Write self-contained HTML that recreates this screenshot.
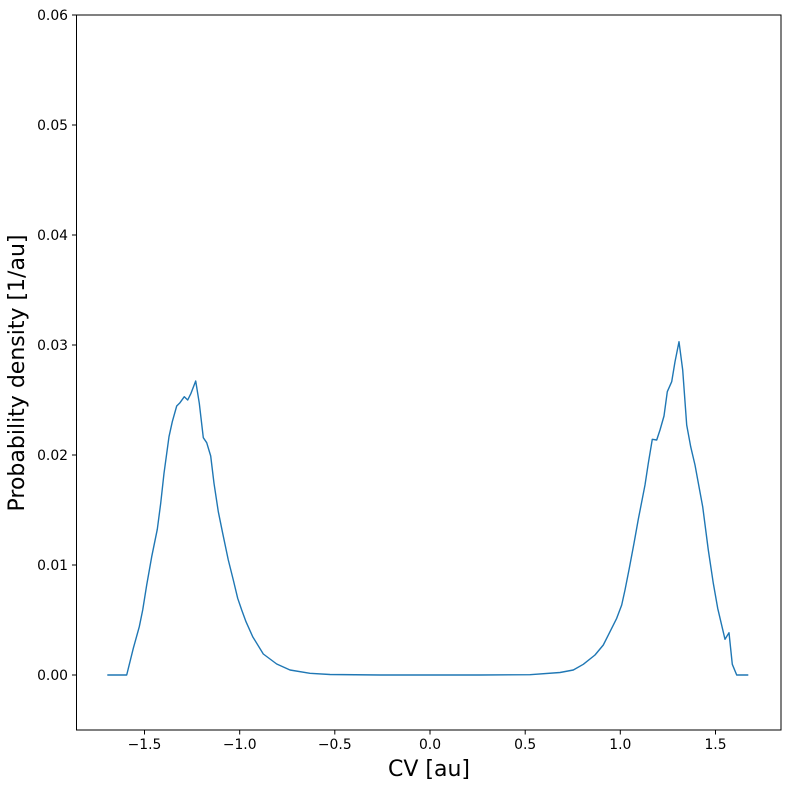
<!DOCTYPE html>
<html><head><meta charset="utf-8"><style>
html,body{margin:0;padding:0;background:#fff;}
svg{display:block;font-family:"DejaVu Sans","Liberation Sans",sans-serif;}
</style></head><body>
<svg width="790" height="789" viewBox="0 0 790 789" xmlns="http://www.w3.org/2000/svg">
<rect width="790" height="789" fill="#fff"/>
<g stroke="#000" stroke-width="1">
<line x1="144.5" y1="730" x2="144.5" y2="734.5"/>
<line x1="239.7" y1="730" x2="239.7" y2="734.5"/>
<line x1="334.8" y1="730" x2="334.8" y2="734.5"/>
<line x1="430" y1="730" x2="430" y2="734.5"/>
<line x1="525.2" y1="730" x2="525.2" y2="734.5"/>
<line x1="620.3" y1="730" x2="620.3" y2="734.5"/>
<line x1="715.5" y1="730" x2="715.5" y2="734.5"/>
<line x1="72" y1="675" x2="76.5" y2="675"/>
<line x1="72" y1="565" x2="76.5" y2="565"/>
<line x1="72" y1="455" x2="76.5" y2="455"/>
<line x1="72" y1="345" x2="76.5" y2="345"/>
<line x1="72" y1="235" x2="76.5" y2="235"/>
<line x1="72" y1="125" x2="76.5" y2="125"/>
<line x1="72" y1="15" x2="76.5" y2="15"/>
</g>
<g font-size="13.9" text-anchor="middle" fill="#000">
<text x="144.5" y="749">−1.5</text>
<text x="239.7" y="749">−1.0</text>
<text x="334.8" y="749">−0.5</text>
<text x="430" y="749">0.0</text>
<text x="525.2" y="749">0.5</text>
<text x="620.3" y="749">1.0</text>
<text x="715.5" y="749">1.5</text>
</g>
<g font-size="13.9" text-anchor="end" fill="#000">
<text x="68" y="680">0.00</text>
<text x="68" y="570">0.01</text>
<text x="68" y="460">0.02</text>
<text x="68" y="350">0.03</text>
<text x="68" y="240">0.04</text>
<text x="68" y="130">0.05</text>
<text x="68" y="20">0.06</text>
</g>
<text x="429" y="776" font-size="22" text-anchor="middle">CV [au]</text>
<text transform="translate(24,373) rotate(-90)" font-size="22" text-anchor="middle">Probability density [1/au]</text>
<polyline fill="none" stroke="#1f77b4" stroke-width="1.4" stroke-linejoin="round" points="107.3,675 126.7,675 133.3,648.3 139.3,626.7 142.7,610 146.7,585 151.7,556.7 157.3,529.3 160.7,503.3 164,473.3 169,436.7 172.3,421.7 176.7,406 180,402.7 184.3,396.7 187.7,400 191,393.3 195.7,381 199.3,403.3 203.3,437.7 206.7,442.7 210.7,456 214,483.3 218.3,511.7 222.7,533.3 228.3,560 233.3,580 237.7,598.3 241.7,610 246,621.7 252.7,636.7 263.3,654 276.7,664 290,670 310,673.3 330,674.5 380,675 480,675 530,674.7 560,672.5 573.3,670 583.3,664.3 595,655 603.3,645 610,631.7 616.7,618.3 621.7,605 625,590 629.3,568.3 634,543.3 638.3,519.3 645,485 648.3,463.3 652.3,439.3 656.7,440 660,430 664,416 667.3,391.7 671.7,381.7 675,361.7 679,341.7 682.7,370 686.7,425 690.7,446.7 695,465 702.7,506.7 708.3,550 713.3,583.3 717.7,608.3 725,639.3 729,632.7 732.3,664.3 736.7,675 748.3,675"/>
<rect x="76.5" y="15" width="704.5" height="715" fill="none" stroke="#000" stroke-width="1"/>
</svg>
</body></html>
